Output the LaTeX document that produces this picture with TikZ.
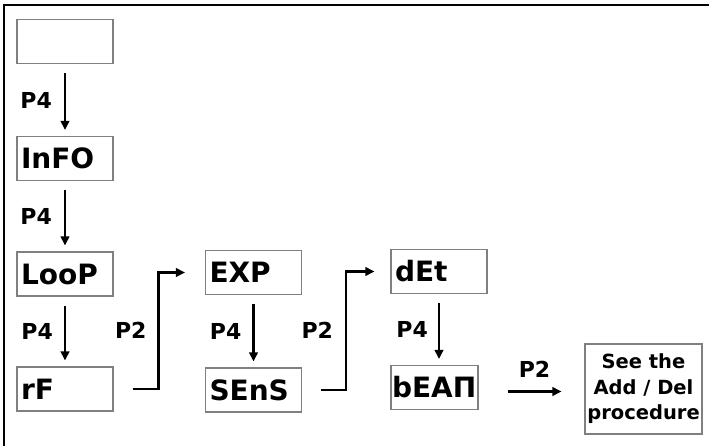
\documentclass[tikz,border=0pt]{standalone}
\usepackage{fontspec}
\setmainfont{DejaVu Sans}
\usepackage{tikz}
\usetikzlibrary{arrows.meta}

\begin{document}
\begin{tikzpicture}[x=1pt, y=-1pt,
  dispbox/.style={draw=gray, line width=1.1pt, minimum height=44pt, text width=88pt, inner xsep=4pt, inner ysep=0pt, align=left, font=\fontsize{28}{32}\selectfont\bfseries},
  keyarrow/.style={line width=2.2pt, -{Triangle[length=9pt, width=8.5pt]}},
  downarrow/.style={keyarrow, shorten <=9pt, shorten >=6pt},
  keylabel/.style={font=\fontsize{22}{25}\selectfont\bfseries, inner sep=0pt}]
  \useasboundingbox (0,0) rectangle (709,446);
  \draw[line width=1.6pt] (709,5) -- (4,5) -- (4,446);
  \node[dispbox] (blank) at (65,41.5) {};
  \node[dispbox] (InFO) at (65,158.5) {InFO};
  \node[dispbox] (LooP) at (65,274) {LooP};
  \node[dispbox] (rF) at (65,389) {rF};
  \node[dispbox] (EXP) at (253.5,272.5) {EXP};
  \node[dispbox] (SEnS) at (253.5,390) {SEnS};
  \node[dispbox] (dEt) at (439,271.5) {dEt};
  \node[dispbox, text width=85pt, inner xsep=1pt] (bEAP) at (434.5,387.5) {bEAΠ};
  \node[draw=gray, line width=1.1pt, minimum width=117pt, minimum height=90pt, inner xsep=2pt, align=center, font=\fontsize{19.5}{25.5}\selectfont\bfseries] (addDel) at (643.5,389) {See the\\Add / Del\\procedure};
  \draw[downarrow] (blank) -- (InFO) node[keylabel, midway, left=12pt] {P4};
  \draw[downarrow] (InFO) -- (LooP) node[keylabel, midway, left=12pt] {P4};
  \draw[downarrow] (LooP) -- (rF) node[keylabel, midway, left=11pt] {P4};
  \draw[downarrow] (EXP) -- (SEnS) node[keylabel, midway, left=11pt] {P4};
  \draw[downarrow] (dEt) -- (dEt |- bEAP.north) node[keylabel, midway, left=10pt] {P4};
  \draw[keyarrow] ([xshift=19pt]rF.east) -- ++(26,0) |- node[keylabel, pos=0.25, left=11pt] {P2} ([xshift=-20pt]EXP.west);
  \draw[keyarrow] ([xshift=19pt]SEnS.east) -- ++(25,0) |- node[keylabel, pos=0.25, left=12pt] {P2} ([xshift=-16pt]dEt.west);
  \draw[keyarrow] ([xshift=29pt, yshift=-4pt]bEAP.east) -- ([xshift=-23pt, yshift=-4pt]bEAP.east -| addDel.west) node[keylabel, midway, above=13pt] {P2};
\end{tikzpicture}
\end{document}
